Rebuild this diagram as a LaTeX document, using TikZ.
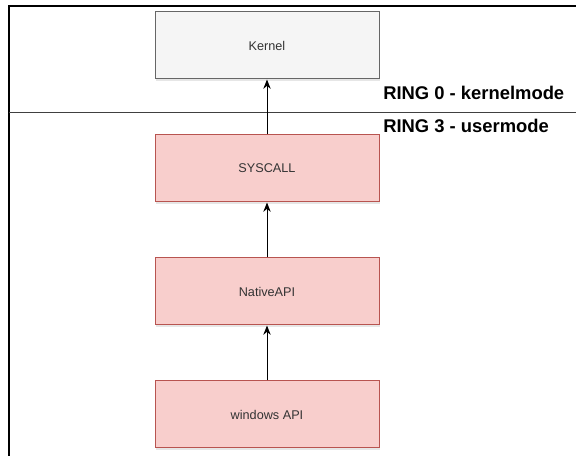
\documentclass[tikz,border=0pt]{standalone}
\usepackage{fontspec}
\setmainfont{Liberation Sans}
\usetikzlibrary{arrows.meta,shadows}
\definecolor{kfill}{HTML}{F5F5F5}
\definecolor{kline}{HTML}{666666}
\definecolor{ufill}{HTML}{F8CECC}
\definecolor{uline}{HTML}{B85450}
\definecolor{txt}{HTML}{333333}
\begin{document}
\begin{tikzpicture}[x=0.75pt,y=-0.75pt,
  box/.style={rectangle, minimum width=168pt, minimum height=50.25pt, inner sep=0pt,
    line width=0.75pt, text=txt, font=\fontsize{9.5}{11}\selectfont,
    drop shadow={shadow xshift=0.8pt, shadow yshift=-1.6pt, opacity=0.2}},
  kbox/.style={box, draw=kline, fill=kfill},
  ubox/.style={box, draw=uline, fill=ufill},
  ring/.style={anchor=base west, inner sep=0pt, font=\bfseries\fontsize{13.8}{16}\selectfont},
  up/.style={-{Stealth[length=7pt,width=5.5pt]}, line width=0.75pt}]
\useasboundingbox (0,0) rectangle (576,456);
\draw[line width=1.1pt] (9,456) -- (9,6) -- (576,6);
\draw[line width=0.8pt, black!75] (9,112.5) -- (576,112.5);
\node[ring] (ring0) at (383,99.5) {RING 0 - kernelmode};
\node[ring] (ring3) at (383,132.7) {RING 3 - usermode};
\node[kbox] (kern) at (267,45.5) {Kernel};
\node[ubox] (sysc) at (267,168.5) {SYSCALL};
\node[ubox] (napi) at (267,291.5) {NativeAPI};
\node[ubox] (wapi) at (267,414.5) {windows API};
\draw[up] (sysc) -- (kern);
\draw[up] (napi) -- (sysc);
\draw[up] (wapi) -- (napi);
\end{tikzpicture}
\end{document}
